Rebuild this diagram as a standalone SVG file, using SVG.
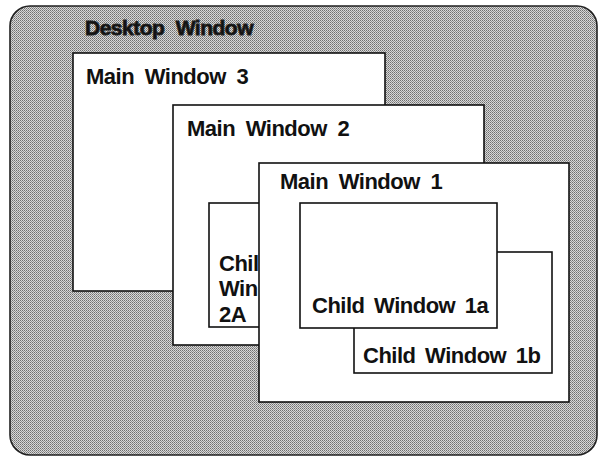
<svg xmlns="http://www.w3.org/2000/svg" width="603" height="457" viewBox="0 0 603 457">
  <defs>
    <pattern id="dither" width="2" height="2" patternUnits="userSpaceOnUse">
      <rect width="2" height="2" fill="#d8d8d8"/>
      <rect x="0" y="0" width="1" height="1" fill="#707070"/>
      <rect x="1" y="1" width="1" height="1" fill="#909090"/>
    </pattern>
  </defs>
  <style>
    .win { fill: #ffffff; stroke: #111111; stroke-width: 1.6; }
    .lbl { font-family: "Liberation Sans", Arial, sans-serif; font-weight: bold; font-size: 22px; fill: #111111; letter-spacing: -0.5px; word-spacing: 5px; }
    .desk { font-size: 21px; stroke: #222222; stroke-width: 0.9; word-spacing: 6px; }
    .child { word-spacing: 4px; }
  </style>
  <rect width="603" height="457" fill="#ffffff"/>
  <g id="desktop">
    <rect x="10" y="6" width="587" height="449" rx="20" ry="20" fill="url(#dither)" stroke="#222222" stroke-width="1.6"/>
    <text class="lbl desk" x="85" y="35">Desktop Window</text>
  </g>
  <g id="main3">
    <rect class="win" x="73" y="53" width="312" height="238"/>
    <text class="lbl" x="86" y="84">Main Window 3</text>
  </g>
  <g id="main2">
    <rect class="win" x="173" y="105" width="311" height="240"/>
    <text class="lbl" x="187" y="136">Main Window 2</text>
  </g>
  <g id="child2a">
    <rect class="win" x="209" y="203" width="60" height="124"/>
    <text class="lbl" x="219" y="271">Chil</text>
    <text class="lbl" x="219" y="296">Win</text>
    <text class="lbl" x="219" y="322">2A</text>
  </g>
  <g id="main1">
    <rect class="win" x="259" y="163" width="310" height="239"/>
    <text class="lbl" x="280" y="189">Main Window 1</text>
  </g>
  <g id="child1b">
    <rect class="win" x="354" y="252" width="198" height="121"/>
    <text class="lbl child" x="363" y="363">Child Window 1b</text>
  </g>
  <g id="child1a">
    <rect class="win" x="300" y="203" width="197" height="125"/>
    <text class="lbl child" x="312" y="313">Child Window 1a</text>
  </g>
</svg>
